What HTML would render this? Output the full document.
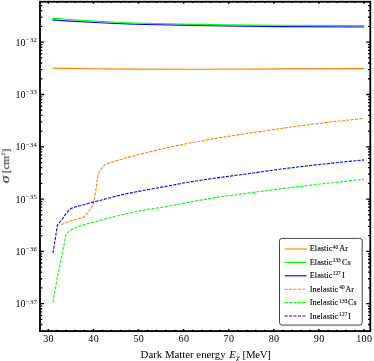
<!DOCTYPE html>
<html><head><meta charset="utf-8"><title>plot</title>
<style>
html,body{margin:0;padding:0;background:#fff;}
body{width:374px;height:361px;position:relative;overflow:hidden;font-family:"Liberation Serif",serif;color:#000;}
.t{position:absolute;white-space:nowrap;line-height:1;}
.xt{font-size:10.1px;letter-spacing:0.35px;transform:translateX(-50%);top:334px;}
.yt{font-size:10px;right:337.1px;}
.yt sup{font-size:6.5px;letter-spacing:0.25px;vertical-align:baseline;position:relative;top:-3.7px;margin-left:0.5px;}
.lg{font-size:8.3px;left:309.8px;-webkit-text-stroke:0.1px #000;}
.lg sup{font-size:5.3px;vertical-align:baseline;position:relative;top:-2.8px;margin:0 1.2px 0 0.4px;}
.lg.in{letter-spacing:0.05px;}
.lg.in sup{margin:0 0.5px 0 1.0px;}
#w{position:absolute;left:0;top:0;width:374px;height:361px;will-change:transform;}
</style></head><body><div id="w">
<svg width="374" height="361" viewBox="0 0 374 361" style="position:absolute;left:0;top:0">
<rect width="374" height="361" fill="#fff"/>
<g fill="none" stroke-width="1.15" stroke-linejoin="round">
<path d="M52.4,68.1 L90.0,68.8 L134.0,69.1 L200.0,69.2 L280.0,68.9 L364.0,68.6" stroke="#ff8000"/>
<path d="M52.4,18.1 L70.0,19.5 L90.3,20.9 L115.4,22.2 L134.0,23.0 L180.0,24.1 L224.0,24.7 L280.0,25.2 L364.0,25.6" stroke="#00ff00"/>
<path d="M52.4,19.9 L70.0,21.1 L90.3,22.3 L115.4,23.5 L134.0,24.2 L180.0,25.3 L224.0,26.0 L280.0,26.6 L364.0,27.0" stroke="#0000ff"/>
</g><g fill="none" stroke-width="1.1" stroke-linejoin="round">
<path d="M61.3,224.6 L70.9,220.8 L84.2,217.1 L90.0,210.0 L93.3,203.8 L94.6,198.2 L96.8,183.2 L98.0,175.2 L100.0,170.4 L104.0,165.6 L108.0,163.4 L112.0,162.1 L116.0,160.9 L120.0,159.7 L124.0,158.5 L128.0,157.4 L132.0,156.3 L136.0,155.3 L140.0,154.4 L144.0,153.3 L148.0,152.2 L152.0,151.4 L156.0,150.4 L160.0,149.3 L164.0,148.5 L168.0,147.6 L172.0,146.8 L176.0,145.9 L180.0,145.1 L184.0,144.2 L188.0,143.4 L192.0,142.6 L196.0,141.9 L200.0,141.3 L204.0,140.5 L208.0,139.8 L212.0,139.1 L216.0,138.4 L220.0,137.6 L224.0,137.0 L228.0,136.4 L232.0,135.8 L236.0,135.2 L240.0,134.6 L244.0,134.0 L248.0,133.4 L252.0,132.8 L256.0,132.2 L260.0,131.6 L264.0,131.0 L268.0,130.4 L272.0,129.8 L276.0,129.2 L280.0,128.6 L284.0,128.0 L288.0,127.4 L292.0,126.8 L296.0,126.3 L300.0,125.8 L304.0,125.3 L308.0,124.8 L312.0,124.3 L316.0,123.8 L320.0,123.3 L324.0,122.8 L328.0,122.3 L332.0,121.9 L336.0,121.4 L340.0,121.0 L344.0,120.6 L348.0,120.1 L352.0,119.7 L356.0,119.3 L360.0,118.8 L364.0,118.4" stroke="#ff8000" stroke-dasharray="3.1 1.33"/>
<path d="M52.9,302.4 L57.3,277.8 L61.8,255.5 L66.3,233.7 L70.8,229.9 L75.4,227.7 L80.9,225.7 L86.0,224.0 L94.2,222.1 L100.0,220.3 L108.0,218.3 L116.0,216.2 L124.0,214.3 L132.0,212.5 L140.0,210.9 L148.0,209.4 L156.0,208.2 L164.0,207.0 L172.0,205.5 L180.0,204.0 L188.0,202.4 L196.0,200.9 L204.0,199.6 L212.0,198.2 L220.0,196.9 L228.0,195.8 L236.0,194.7 L244.0,193.6 L252.0,192.5 L260.0,191.5 L268.0,190.5 L276.0,189.4 L284.0,188.4 L292.0,187.4 L300.0,186.4 L308.0,185.5 L316.0,184.5 L324.0,183.6 L332.0,182.7 L340.0,181.9 L348.0,181.0 L356.0,180.2 L364.0,179.4" stroke="#00ff00" stroke-dasharray="3.1 1.33"/>
<path d="M53.0,253.2 L57.4,225.2 L61.8,219.9 L66.3,213.0 L70.8,208.5 L75.4,207.0 L79.9,205.8 L94.2,201.8 L100.0,200.5 L108.0,198.2 L116.0,196.2 L124.0,194.4 L132.0,192.6 L140.0,191.1 L148.0,189.6 L156.0,188.2 L164.0,186.7 L172.0,185.2 L180.0,183.7 L188.0,182.2 L196.0,181.0 L204.0,179.8 L212.0,178.6 L220.0,177.4 L228.0,176.4 L236.0,175.3 L244.0,174.3 L252.0,173.2 L260.0,172.1 L268.0,170.9 L276.0,169.8 L284.0,168.7 L292.0,167.7 L300.0,166.7 L308.0,165.8 L316.0,164.9 L324.0,164.0 L332.0,163.1 L340.0,162.3 L348.0,161.5 L356.0,160.7 L364.0,159.9" stroke="#0000ff" stroke-dasharray="3.1 1.33"/>
</g>
<path d="M40.0,331.05h2.3M370.3,331.05h-2.3M40.0,324.51h2.3M370.3,324.51h-2.3M40.0,319.44h2.3M370.3,319.44h-2.3M40.0,315.30h2.3M370.3,315.30h-2.3M40.0,311.80h2.3M370.3,311.80h-2.3M40.0,308.77h2.3M370.3,308.77h-2.3M40.0,306.09h2.3M370.3,306.09h-2.3M40.0,303.70h4.1M370.3,303.70h-4.1M40.0,287.96h2.3M370.3,287.96h-2.3M40.0,278.75h2.3M370.3,278.75h-2.3M40.0,272.21h2.3M370.3,272.21h-2.3M40.0,267.14h2.3M370.3,267.14h-2.3M40.0,263.00h2.3M370.3,263.00h-2.3M40.0,259.50h2.3M370.3,259.50h-2.3M40.0,256.47h2.3M370.3,256.47h-2.3M40.0,253.79h2.3M370.3,253.79h-2.3M40.0,251.40h4.1M370.3,251.40h-4.1M40.0,235.66h2.3M370.3,235.66h-2.3M40.0,226.45h2.3M370.3,226.45h-2.3M40.0,219.91h2.3M370.3,219.91h-2.3M40.0,214.84h2.3M370.3,214.84h-2.3M40.0,210.70h2.3M370.3,210.70h-2.3M40.0,207.20h2.3M370.3,207.20h-2.3M40.0,204.17h2.3M370.3,204.17h-2.3M40.0,201.49h2.3M370.3,201.49h-2.3M40.0,199.10h4.1M370.3,199.10h-4.1M40.0,183.36h2.3M370.3,183.36h-2.3M40.0,174.15h2.3M370.3,174.15h-2.3M40.0,167.61h2.3M370.3,167.61h-2.3M40.0,162.54h2.3M370.3,162.54h-2.3M40.0,158.40h2.3M370.3,158.40h-2.3M40.0,154.90h2.3M370.3,154.90h-2.3M40.0,151.87h2.3M370.3,151.87h-2.3M40.0,149.19h2.3M370.3,149.19h-2.3M40.0,146.80h4.1M370.3,146.80h-4.1M40.0,131.06h2.3M370.3,131.06h-2.3M40.0,121.85h2.3M370.3,121.85h-2.3M40.0,115.31h2.3M370.3,115.31h-2.3M40.0,110.24h2.3M370.3,110.24h-2.3M40.0,106.10h2.3M370.3,106.10h-2.3M40.0,102.60h2.3M370.3,102.60h-2.3M40.0,99.57h2.3M370.3,99.57h-2.3M40.0,96.89h2.3M370.3,96.89h-2.3M40.0,94.50h4.1M370.3,94.50h-4.1M40.0,78.76h2.3M370.3,78.76h-2.3M40.0,69.55h2.3M370.3,69.55h-2.3M40.0,63.01h2.3M370.3,63.01h-2.3M40.0,57.94h2.3M370.3,57.94h-2.3M40.0,53.80h2.3M370.3,53.80h-2.3M40.0,50.30h2.3M370.3,50.30h-2.3M40.0,47.27h2.3M370.3,47.27h-2.3M40.0,44.59h2.3M370.3,44.59h-2.3M40.0,42.20h4.1M370.3,42.20h-4.1M40.0,26.46h2.3M370.3,26.46h-2.3M40.0,17.25h2.3M370.3,17.25h-2.3M40.0,10.71h2.3M370.3,10.71h-2.3M40.0,5.64h2.3M370.3,5.64h-2.3" stroke="#000" stroke-width="1.3" fill="none"/>
<path d="M48.30,331.1v-2.1M48.30,1.75v2.1M57.32,331.1v-1.3M57.32,1.75v1.3M66.34,331.1v-1.3M66.34,1.75v1.3M75.36,331.1v-1.3M75.36,1.75v1.3M84.38,331.1v-1.3M84.38,1.75v1.3M93.40,331.1v-2.1M93.40,1.75v2.1M102.42,331.1v-1.3M102.42,1.75v1.3M111.44,331.1v-1.3M111.44,1.75v1.3M120.46,331.1v-1.3M120.46,1.75v1.3M129.48,331.1v-1.3M129.48,1.75v1.3M138.50,331.1v-2.1M138.50,1.75v2.1M147.52,331.1v-1.3M147.52,1.75v1.3M156.54,331.1v-1.3M156.54,1.75v1.3M165.56,331.1v-1.3M165.56,1.75v1.3M174.58,331.1v-1.3M174.58,1.75v1.3M183.60,331.1v-2.1M183.60,1.75v2.1M192.62,331.1v-1.3M192.62,1.75v1.3M201.64,331.1v-1.3M201.64,1.75v1.3M210.66,331.1v-1.3M210.66,1.75v1.3M219.68,331.1v-1.3M219.68,1.75v1.3M228.70,331.1v-2.1M228.70,1.75v2.1M237.72,331.1v-1.3M237.72,1.75v1.3M246.74,331.1v-1.3M246.74,1.75v1.3M255.76,331.1v-1.3M255.76,1.75v1.3M264.78,331.1v-1.3M264.78,1.75v1.3M273.80,331.1v-2.1M273.80,1.75v2.1M282.82,331.1v-1.3M282.82,1.75v1.3M291.84,331.1v-1.3M291.84,1.75v1.3M300.86,331.1v-1.3M300.86,1.75v1.3M309.88,331.1v-1.3M309.88,1.75v1.3M318.90,331.1v-2.1M318.90,1.75v2.1M327.92,331.1v-1.3M327.92,1.75v1.3M336.94,331.1v-1.3M336.94,1.75v1.3M345.96,331.1v-1.3M345.96,1.75v1.3M354.98,331.1v-1.3M354.98,1.75v1.3M364.00,331.1v-2.1M364.00,1.75v2.1" stroke="#000" stroke-width="1.5" fill="none"/>
<rect x="40.0" y="1.75" width="330.3" height="329.35" fill="none" stroke="#000" stroke-width="1.85"/>
<rect x="279.5" y="238.4" width="82.7" height="86.7" rx="2.5" ry="2.5" fill="#fff" stroke="#444" stroke-width="1"/>
<path d="M284.6,249.0H306.7" stroke="#ff8000" stroke-width="1.15" fill="none"/>
<path d="M284.6,262.4H306.7" stroke="#00ff00" stroke-width="1.15" fill="none"/>
<path d="M284.6,275.8H306.7" stroke="#0000ff" stroke-width="1.15" fill="none"/>
<path d="M284.6,289.2H306.7" stroke="#ff8000" stroke-width="1.15" fill="none" stroke-dasharray="3.1 1.33"/>
<path d="M284.6,302.6H306.7" stroke="#00ff00" stroke-width="1.15" fill="none" stroke-dasharray="3.1 1.33"/>
<path d="M284.6,316.0H306.7" stroke="#0000ff" stroke-width="1.15" fill="none" stroke-dasharray="3.1 1.33"/>
</svg>
<div class="t xt" style="left:48.6px">30</div>
<div class="t xt" style="left:93.7px">40</div>
<div class="t xt" style="left:138.8px">50</div>
<div class="t xt" style="left:183.9px">60</div>
<div class="t xt" style="left:229.0px">70</div>
<div class="t xt" style="left:274.1px">80</div>
<div class="t xt" style="left:319.2px">90</div>
<div class="t xt" style="left:364.3px">100</div>
<div class="t yt" style="top:37.8px">10<sup>&minus;32</sup></div>
<div class="t yt" style="top:90.1px">10<sup>&minus;33</sup></div>
<div class="t yt" style="top:142.4px">10<sup>&minus;34</sup></div>
<div class="t yt" style="top:194.7px">10<sup>&minus;35</sup></div>
<div class="t yt" style="top:247.0px">10<sup>&minus;36</sup></div>
<div class="t yt" style="top:299.3px">10<sup>&minus;37</sup></div>
<div class="t lg" style="top:245.4px">Elastic<sup>40</sup>Ar</div>
<div class="t lg" style="top:258.8px">Elastic<sup>133</sup>Cs</div>
<div class="t lg" style="top:272.2px">Elastic<sup>127</sup>I</div>
<div class="t lg in" style="top:285.9px">Inelastic<sup>40</sup>Ar</div>
<div class="t lg in" style="top:299.3px">Inelastic<sup>133</sup>Cs</div>
<div class="t lg in" style="top:312.7px">Inelastic<sup>127</sup>I</div>
<div class="t" id="xl" style="font-size:10.8px;left:140.6px;top:349px;">Dark Matter energy<i style="margin-left:3.7px">E</i><sub style="font-size:8.4px;font-style:italic;vertical-align:baseline;position:relative;top:2.4px;margin-left:0.2px">&chi;</sub><span style="letter-spacing:-0.3px;margin-left:2.9px">[MeV]</span></div>
<div class="t" id="yl" style="font-size:11.2px;left:5.8px;top:166.3px;transform:translate(-50%,-50%) rotate(-90deg)"><i style="display:inline-block;font-size:11.6px;transform:scaleX(1.35);transform-origin:left center;margin-right:1.4px">&sigma;</i> [cm<sup style="font-size:7px;vertical-align:baseline;position:relative;top:-4.4px">2</sup>]</div>
</div></body></html>
